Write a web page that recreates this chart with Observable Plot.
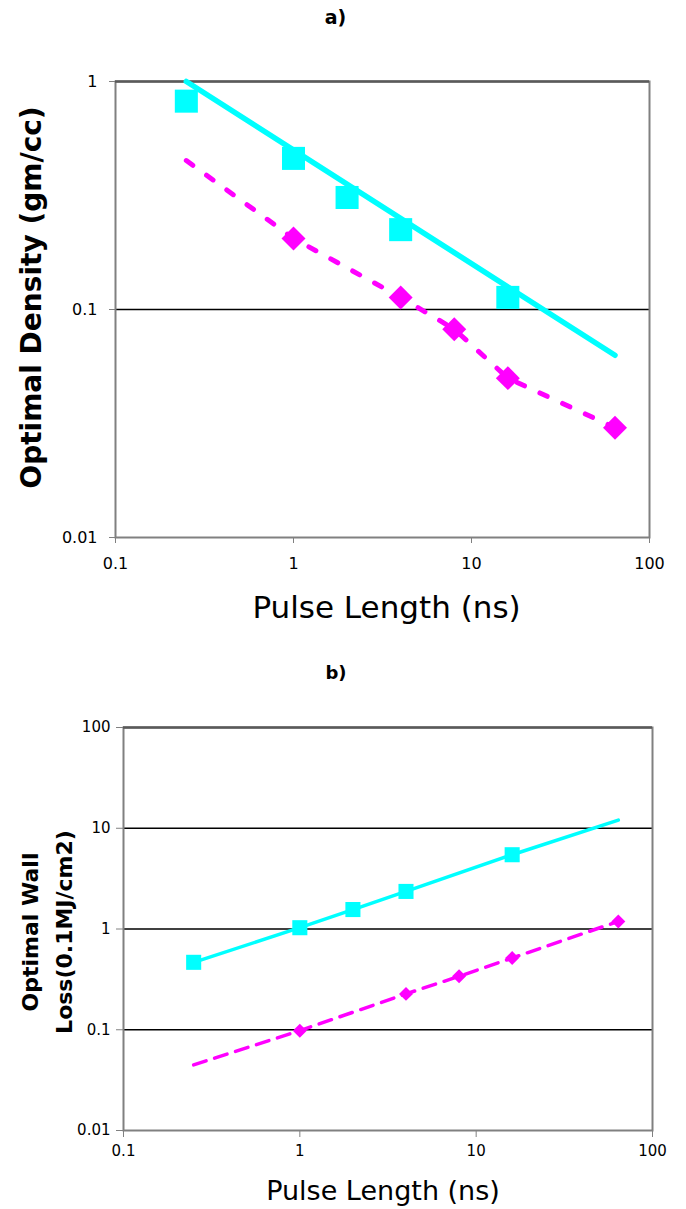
<!DOCTYPE html>
<html>
<head>
<meta charset="utf-8">
<script src="https://cdn.jsdelivr.net/npm/d3@7"></script>
<script src="https://cdn.jsdelivr.net/npm/@observablehq/plot@0.6"></script>
<style>
  body { margin: 0; background: #fff; }
  #chart { width: 686px; }
  #chart svg { display: block; }
</style>
</head>
<body>
<div id="chart"></div>
<script>
// ---- Panel a) Optimal Density (gm/cc) vs Pulse Length (ns)
const densSquareX  = [0.25, 1, 2, 4, 16];
const densSquareY  = [0.82, 0.46, 0.31, 0.224, 0.113];
const densFitX     = [0.25, 64];
const densFitY     = [1.0, 0.063];
const densDiamondX = [1, 4, 8, 16, 64];
const densDiamondY = [0.205, 0.113, 0.082, 0.05, 0.0303];
const densDashX    = [0.25, 1, 4, 8, 16, 64];
const densDashY    = [0.45, 0.205, 0.113, 0.082, 0.05, 0.0303];

// ---- Panel b) Optimal Wall Loss (0.1MJ/cm2) vs Pulse Length (ns)
const lossSquareX  = [0.25, 1, 2, 4, 16];
const lossSquareY  = [0.467, 1.03, 1.56, 2.36, 5.46];
const lossLineX    = [0.25, 1, 2, 4, 16, 64];
const lossLineY    = [0.467, 1.03, 1.56, 2.36, 5.46, 12.05];
const lossDiamondX = [1, 4, 8, 16, 64];
const lossDiamondY = [0.098, 0.227, 0.339, 0.515, 1.19];
const lossDashX    = [0.25, 1, 4, 8, 16, 64];
const lossDashY    = [0.0448, 0.098, 0.227, 0.339, 0.515, 1.19];

// ---- Ticks and labels
const xTicks   = [0.1, 1, 10, 100];
const yTicksA  = [0.01, 0.1, 1];
const yTicksB  = [0.01, 0.1, 1, 10, 100];
const gridA    = [0.1];
const gridB    = [0.1, 1, 10];
const titleA   = "a)";
const titleB   = "b)";
const xLabel   = "Pulse Length (ns)";
const yLabelA  = "Optimal Density (gm/cc)";
const yLabelB  = "Optimal Wall\nLoss(0.1MJ/cm2)";

const CYAN = "#00FFFF", MAGENTA = "#FF00FF", FRAME = "#808080";
const pts = (xs, ys) => xs.map((x, i) => ({x, y: ys[i]}));
const fmt = d => String(d);

const plotA = Plot.plot({
  width: 686, height: 640,
  marginLeft: 115, marginRight: 37, marginTop: 81, marginBottom: 103,
  style: {fontFamily: "DejaVu Sans", fontSize: "16px", color: "black", background: "white", overflow: "visible"},
  x: {type: "log", domain: [0.1, 100]},
  y: {type: "log", domain: [0.01, 1]},
  marks: [
    Plot.ruleY(gridA, {stroke: "black", strokeWidth: 1.5}),
    Plot.frame({stroke: FRAME, strokeWidth: 2}),
    Plot.ruleY([yTicksA[yTicksA.length - 1]], {stroke: "#5a5a5a", strokeWidth: 2.5}),
    Plot.axisX(xTicks, {tickFormat: fmt, tickSize: 6, tickPadding: 14.5, stroke: FRAME, fill: "black", label: null, fontSize: 16}),
    Plot.axisY(yTicksA, {tickFormat: fmt, tickSize: 6, tickPadding: 12, stroke: FRAME, fill: "black", label: null, fontSize: 16}),
    Plot.line(pts(densDashX, densDashY), {x: "x", y: "y", stroke: MAGENTA, strokeWidth: 5, strokeDasharray: "8,17", strokeLinecap: "round"}),
    Plot.line(pts(densFitX, densFitY), {x: "x", y: "y", stroke: CYAN, strokeWidth: 5.5, strokeLinecap: "round"}),
    Plot.dot(pts(densDiamondX, densDiamondY), {x: "x", y: "y", symbol: "diamond2", r: 10.8, fill: MAGENTA, stroke: "none"}),
    Plot.dot(pts(densSquareX, densSquareY), {x: "x", y: "y", symbol: "square", r: 13, fill: CYAN, stroke: "none"}),
    Plot.text([titleA], {frameAnchor: "top", lineAnchor: "middle", dx: -47, dy: -64, fontWeight: "bold", fontSize: 19}),
    Plot.text([xLabel], {frameAnchor: "bottom", lineAnchor: "bottom", dx: 4, dy: 80, fontSize: 31}),
    Plot.text([yLabelA], {frameAnchor: "left", textAnchor: "middle", lineAnchor: "middle", rotate: -90, dx: -83, dy: -12, fontSize: 28, fontWeight: "bold"})
  ]
});

const plotB = Plot.plot({
  width: 686, height: 569,
  marginLeft: 123, marginRight: 34, marginTop: 87, marginBottom: 79,
  style: {fontFamily: "DejaVu Sans", fontSize: "15px", color: "black", background: "white", overflow: "visible"},
  x: {type: "log", domain: [0.1, 100]},
  y: {type: "log", domain: [0.01, 100]},
  marks: [
    Plot.ruleY(gridB, {stroke: "black", strokeWidth: 1.5}),
    Plot.frame({stroke: FRAME, strokeWidth: 2}),
    Plot.ruleY([yTicksB[yTicksB.length - 1]], {stroke: "#5a5a5a", strokeWidth: 2.5}),
    Plot.axisX(xTicks, {tickFormat: fmt, tickSize: 7, tickPadding: 8, stroke: FRAME, fill: "black", label: null, fontSize: 15}),
    Plot.axisY(yTicksB, {tickFormat: fmt, tickSize: 7, tickPadding: 6, stroke: FRAME, fill: "black", label: null, fontSize: 15}),
    Plot.line(pts(lossDashX, lossDashY), {x: "x", y: "y", stroke: MAGENTA, strokeWidth: 3.5, strokeDasharray: "13,9"}),
    Plot.line(pts(lossLineX, lossLineY), {x: "x", y: "y", stroke: CYAN, strokeWidth: 3.5, strokeLinecap: "round"}),
    Plot.dot(pts(lossDiamondX, lossDiamondY), {x: "x", y: "y", symbol: "diamond2", r: 6.3, fill: MAGENTA, stroke: "none"}),
    Plot.dot(pts(lossSquareX, lossSquareY), {x: "x", y: "y", symbol: "square", r: 8.5, fill: CYAN, stroke: "none"}),
    Plot.text([titleB], {frameAnchor: "top", lineAnchor: "middle", dx: -52, dy: -54, fontWeight: "bold", fontSize: 18}),
    Plot.text([xLabel], {frameAnchor: "bottom", lineAnchor: "bottom", dx: -5, dy: 69, fontSize: 27}),
    Plot.text([yLabelB], {frameAnchor: "left", textAnchor: "middle", lineAnchor: "middle", rotate: -90, dx: -79, dy: 3, fontSize: 22, fontWeight: "bold", lineHeight: 1.55})
  ]
});

const chart = document.getElementById("chart");
chart.appendChild(plotA);
chart.appendChild(plotB);
</script>
</body>
</html>
